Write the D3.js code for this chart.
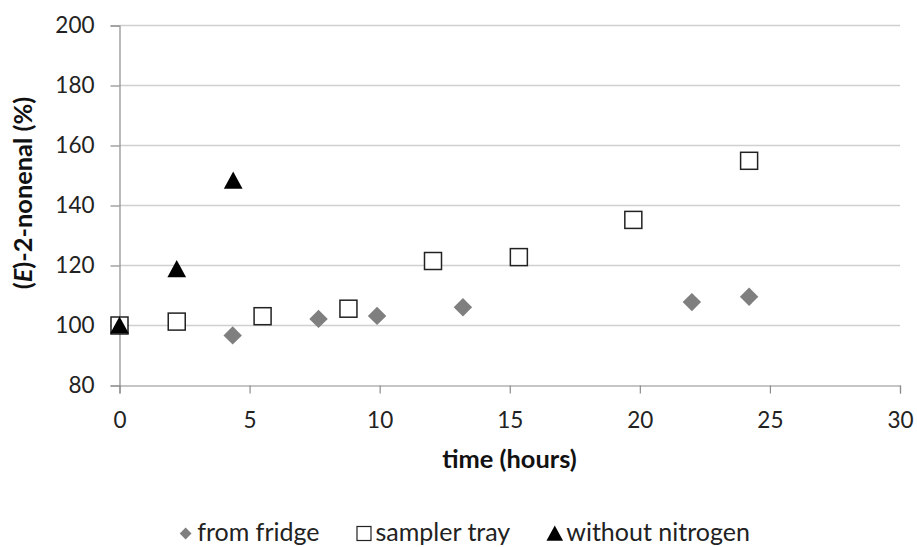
<!DOCTYPE html>
<html><head><meta charset="utf-8">
<script src="https://cdn.jsdelivr.net/npm/d3@7"></script>
<style>
html,body{margin:0;padding:0;background:#fff;}
svg{display:block;font-family:Lato,"Open Sans",sans-serif;}
</style></head>
<body>
<svg id="chart" width="917" height="547"></svg>
<script>
// Data
const fridgeTime = [0, 4.35, 7.65, 9.9, 13.2, 22.0, 24.2];
const fridgeValue = [100, 96.7, 102.2, 103.2, 106.1, 107.8, 109.6];
const trayTime = [0, 2.2, 5.5, 8.8, 12.05, 15.35, 19.75, 24.2];
const trayValue = [100, 101.3, 103.1, 105.6, 121.5, 122.8, 135.2, 154.9];
const nitroTime = [0, 2.2, 4.37];
const nitroValue = [100, 118.8, 148.3];
const xTicks = [0, 5, 10, 15, 20, 25, 30];
const yTicks = [80, 100, 120, 140, 160, 180, 200];
const legendLabels = ["from fridge", "sampler tray", "without nitrogen"];

(function () {
const svg = d3.select("#chart");
const mLeft = 119.5, mRight = 900, mTop = 25.5, mBottom = 385.5;
const x = d3.scaleLinear().domain([0, 30]).range([mLeft, mRight]);
const y = d3.scaleLinear().domain([80, 200]).range([mBottom, mTop]);
const tickFont = 22.5, titleFont = 25.4, legendFont = 25;

// gridlines
svg.append("g").selectAll("line").data(yTicks.filter(d => d > 80)).join("line")
  .attr("x1", mLeft).attr("x2", mRight)
  .attr("y1", d => y(d)).attr("y2", d => y(d))
  .attr("stroke", "#d0d0d0").attr("stroke-width", 1.3);

// y axis
const yAxis = svg.append("g").attr("transform", `translate(${mLeft},0)`)
  .call(d3.axisLeft(y).tickValues(yTicks).tickSize(9).tickPadding(16));
yAxis.select(".domain").attr("stroke", "#8c8c8c").attr("stroke-width", 1.2);
yAxis.selectAll(".tick line").attr("stroke", "#8c8c8c").attr("stroke-width", 1.2);
yAxis.selectAll(".tick text").attr("font-size", tickFont).attr("fill", "#222")
  .attr("font-family", "Lato");

// x axis
const xAxis = svg.append("g").attr("transform", `translate(0,${mBottom})`)
  .call(d3.axisBottom(x).tickValues(xTicks).tickSize(8).tickPadding(19));
xAxis.select(".domain").attr("stroke", "#8c8c8c").attr("stroke-width", 1.2);
xAxis.selectAll(".tick line").attr("stroke", "#8c8c8c").attr("stroke-width", 1.2);
xAxis.selectAll(".tick text").attr("font-size", tickFont).attr("fill", "#222")
  .attr("font-family", "Lato");

// axis titles
svg.append("text").attr("x", 509.5).attr("y", 468)
  .attr("text-anchor", "middle").attr("font-size", titleFont).attr("font-weight", "bold")
  .attr("fill", "#111").text("time (hours)");

const yt = svg.append("text").attr("transform", `translate(32,193) rotate(-90)`)
  .attr("text-anchor", "middle").attr("font-size", titleFont).attr("font-weight", "bold")
  .attr("fill", "#111");
yt.append("tspan").text("(");
yt.append("tspan").attr("font-style", "italic").text("E");
yt.append("tspan").text(")-2-nonenal (%)");

// markers
const ms = 18;
const g = svg.append("g");
g.selectAll(".dia").data(fridgeTime.map((t, i) => [t, fridgeValue[i]])).join("path")
  .attr("d", d3.symbol(d3.symbolSquare, 170)())
  .attr("transform", d => `translate(${x(d[0])},${y(d[1])}) rotate(45)`)
  .attr("fill", "#7f7f7f");
g.selectAll(".sq").data(trayTime.map((t, i) => [t, trayValue[i]])).join("rect")
  .attr("x", d => x(d[0]) - ms / 2 + 0.5).attr("y", d => y(d[1]) - ms / 2 + 0.5)
  .attr("width", ms - 1).attr("height", ms - 1)
  .attr("fill", "#fff").attr("stroke", "#222").attr("stroke-width", 1.5);
const tri = (cx, cy, s) => `M${cx},${cy - s * 0.5}L${cx + s * 0.52},${cy + s * 0.45}L${cx - s * 0.52},${cy + s * 0.45}Z`;
g.selectAll(".tri").data(nitroTime.map((t, i) => [t, nitroValue[i]])).join("path")
  .attr("d", d => tri(x(d[0]), y(d[1]), 18))
  .attr("fill", "#000");

// legend (laid out from measured text widths, centred)
const lb = 541, lc = 533.5, symW = 15, symGap = 4, itemGap = 37, legCenter = 464;
const leg = svg.append("g");
const texts = legendLabels.map(l => leg.append("text").attr("y", lb)
  .attr("font-size", legendFont).attr("fill", "#222").text(l));
const widths = texts.map(t => t.node().getComputedTextLength());
const total = d3.sum(widths) + 3 * (symW + symGap) + 2 * itemGap;
let cx = legCenter - total / 2;
const symX = [];
texts.forEach((t, i) => {
  symX.push(cx);
  t.attr("x", cx + symW + symGap);
  cx += symW + symGap + widths[i] + itemGap;
});
leg.append("path").attr("d", d3.symbol(d3.symbolSquare, 70)())
  .attr("transform", `translate(${symX[0] + symW / 2},${lc}) rotate(45)`).attr("fill", "#7f7f7f");
leg.append("rect").attr("x", symX[1] + 0.5).attr("y", lc - 7).attr("width", 14).attr("height", 14)
  .attr("fill", "#fff").attr("stroke", "#222").attr("stroke-width", 1.2);
leg.append("path").attr("d", tri(symX[2] + symW / 2, lc, 16)).attr("fill", "#000");
})();
</script>
</body></html>
